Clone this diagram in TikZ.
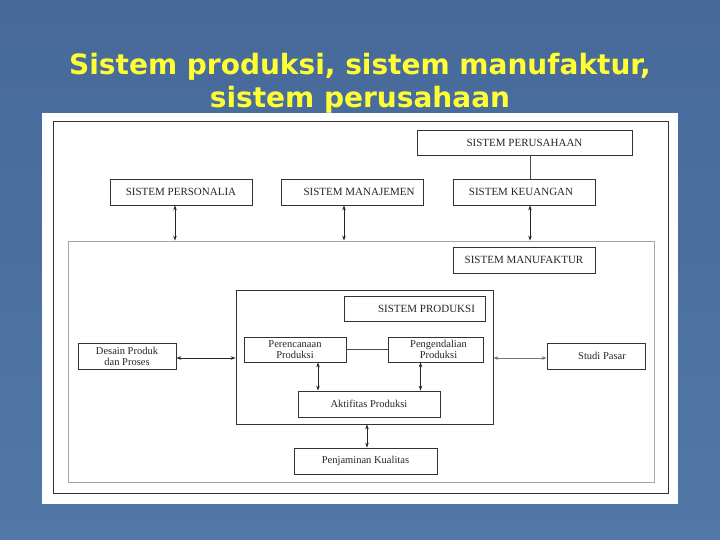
\documentclass[tikz,border=0pt]{standalone}
\usepackage{fontspec}
\setmainfont{Liberation Serif}
\newfontfamily\titlefont{DejaVu Sans}
\usetikzlibrary{arrows.meta,calc}
\definecolor{bgtop}{HTML}{46699A}
\definecolor{bgbot}{HTML}{5178A6}
\definecolor{ttl}{HTML}{FFFF33}
\definecolor{frm}{HTML}{333333}
\tikzset{
  lbl/.style={draw=frm, line width=0.8pt, fill=white, inner sep=0pt, font=\fontsize{11}{11}\selectfont, text=black!85, align=center},
  sml/.style={lbl, font=\fontsize{10.5}{11}\selectfont},
  cont/.style={draw=frm, line width=0.8pt, inner sep=0pt},
  dbl/.style={line width=0.6pt, black!85, {Stealth[length=5pt,width=3.5pt]}-{Stealth[length=5pt,width=3.5pt]}},
  plain/.style={line width=0.6pt, black!70},
  titletxt/.style={font=\titlefont\bfseries\fontsize{28}{32}\selectfont}
}
\begin{document}
\begin{tikzpicture}[x=1pt,y=-1pt]
\useasboundingbox (0,0) rectangle (720,540);
\shade[top color=bgtop, bottom color=bgbot] (0,0) rectangle (720,540);
% title
\node[titletxt, text=ttl] (t1) at (360,67) {Sistem produksi, sistem manufaktur,};
\node[titletxt, text=ttl] (t2) at (360,100) {sistem perusahaan};
% white panel
\fill[white] (42,113) rectangle (678,504);
\node[cont, minimum width=615pt, minimum height=372pt] (frame) at (360.5,307) {};
% containers
\node[cont, draw=black!35, minimum width=586pt, minimum height=241pt] (mf) at (361,361.5) {};
\node[cont, minimum width=257pt, minimum height=134pt] (prod) at (364.5,357) {};
% boxes
\node[lbl, minimum width=215pt, minimum height=25pt] (per) at (524.5,142.5) {SISTEM PERUSAHAAN};
\node[lbl, minimum width=142pt, minimum height=26pt] (pers) at (181,192) {SISTEM PERSONALIA};
\node[lbl, minimum width=142pt, minimum height=26pt] (man) at (352,192) {\hspace*{14pt}SISTEM MANAJEMEN};
\node[lbl, minimum width=142pt, minimum height=26pt] (keu) at (524,192) {SISTEM KEUANGAN\hspace*{6pt}};
\node[lbl, minimum width=142pt, minimum height=26pt] (mfl) at (524,260) {SISTEM MANUFAKTUR};
\node[lbl, minimum width=141pt, minimum height=25pt] (prl) at (414.5,308.5) {\hspace*{24pt}SISTEM PRODUKSI};
\node[sml, minimum width=102pt, minimum height=25pt] (ren) at (295,349.5) {Perencanaan\\Produksi};
\node[sml, minimum width=95pt, minimum height=25pt] (dal) at (435.5,349.5) {\hspace*{6pt}Pengendalian\\\hspace*{6pt}Produksi};
\node[sml, minimum width=98pt, minimum height=26pt] (des) at (127,356) {Desain Produk\\dan Proses};
\node[sml, minimum width=98pt, minimum height=26pt] (stu) at (596,356) {\hspace*{12pt}Studi Pasar};
\node[sml, minimum width=142pt, minimum height=26pt] (akt) at (369,404) {Aktifitas Produksi};
\node[sml, minimum width=143pt, minimum height=26pt] (pen) at (365.5,461) {Penjaminan Kualitas};
% connectors
\draw[plain] ([xshift=5.5pt]per.south) -- ([xshift=6pt]keu.north);
\draw[dbl] ([xshift=-6pt]pers.south) -- ([xshift=-6pt]pers.south |- mf.north);
\draw[dbl] ([xshift=-8pt]man.south) -- ([xshift=-8pt]man.south |- mf.north);
\draw[dbl] ([xshift=6pt]keu.south) -- ([xshift=6pt]keu.south |- mf.north);
\draw[plain] (ren.east) -- (dal.west);
\draw[dbl] ([yshift=-2pt]des.east) -- ([yshift=-2pt]des.east -| prod.west);
\draw[dbl, black!55] ([yshift=-2pt]stu.west -| prod.east) -- ([yshift=-2pt]stu.west);
\draw[dbl] ([xshift=23pt]ren.south) -- ([xshift=23pt]ren.south |- akt.north);
\draw[dbl] ([xshift=-15pt]dal.south) -- ([xshift=-15pt]dal.south |- akt.north);
\draw[dbl] ([xshift=2.5pt]prod.south) -- ([xshift=2.5pt]prod.south |- pen.north);
\end{tikzpicture}
\end{document}
